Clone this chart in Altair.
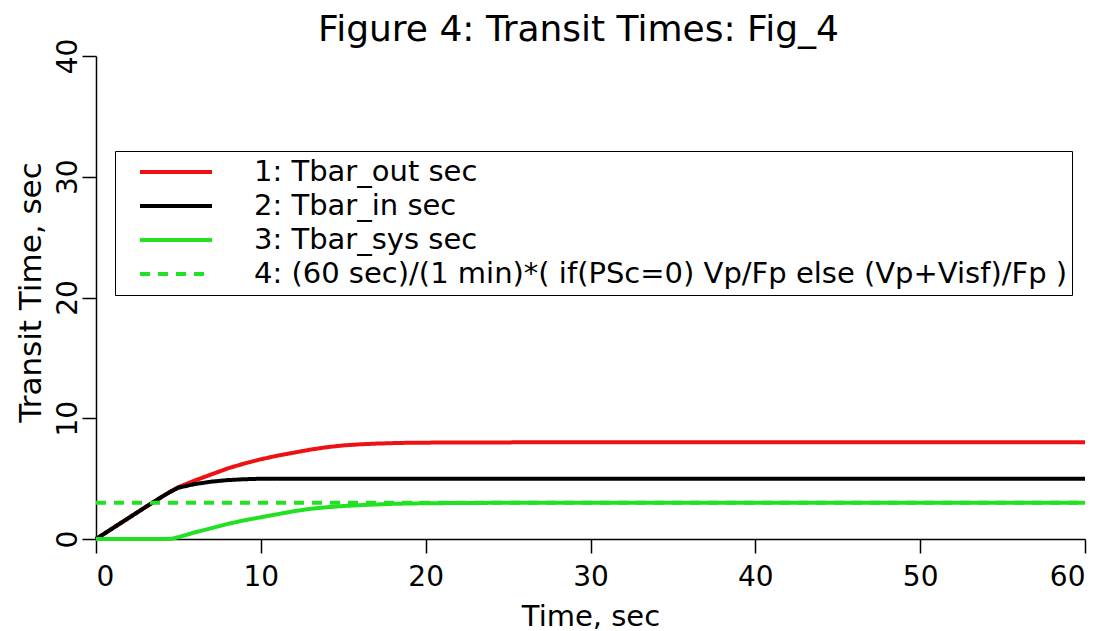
import altair as alt
import pandas as pd

# Time axis samples (sec)
time_s = [0, 1, 2, 3, 4, 4.5, 5, 6, 7, 8, 9, 10, 11, 12, 13, 14, 15, 16, 17, 18, 19, 20, 22, 25, 27, 30, 40, 50, 60]

tbar_out = [0, 0.88, 1.76, 2.64, 3.5, 3.92, 4.3, 4.85, 5.35, 5.85, 6.25, 6.6, 6.9, 7.15, 7.4, 7.6, 7.75, 7.84, 7.9, 7.94,
            7.97, 7.98, 7.99, 8.0, 8.02, 8.02, 8.02, 8.02, 8.02]
tbar_in = [0, 0.88, 1.76, 2.64, 3.5, 3.9, 4.25, 4.55, 4.75, 4.88, 4.95, 4.99, 5.0, 5.0, 5.0, 5.0, 5.0, 5.0, 5.0, 5.0,
           5.0, 5.0, 5.0, 5.0, 5.0, 5.0, 5.0, 5.0, 5.0]
tbar_sys = [0, 0, 0, 0, 0, 0, 0.15, 0.55, 0.9, 1.25, 1.55, 1.8, 2.05, 2.3, 2.5, 2.63, 2.73, 2.8, 2.86, 2.91,
            2.94, 2.96, 2.98, 3.0, 3.0, 3.0, 3.0, 3.0, 3.0]
formula = [3.0] * len(time_s)

labels = [
    "1: Tbar_out sec",
    "2: Tbar_in sec",
    "3: Tbar_sys sec",
    "4: (60 sec)/(1 min)*( if(PSc=0) Vp/Fp else (Vp+Visf)/Fp )",
]
colors = ["#ee1111", "#000000", "#22e022", "#22e022"]
dashes = [[1, 0], [1, 0], [1, 0], [10, 8]]

x_ticks = [0, 10, 20, 30, 40, 50, 60]
y_ticks = [0, 10, 20, 30, 40]

rows = []
for lab, vals in zip(labels, [tbar_out, tbar_in, tbar_sys, formula]):
    for t, v in zip(time_s, vals):
        rows.append({"t": t, "v": v, "series": lab})
df = pd.DataFrame(rows)

FONT = "DejaVu Sans"

legend = alt.Legend(
    orient="none", legendX=19, legendY=95, direction="vertical",
    symbolType="stroke", symbolSize=5184, symbolStrokeWidth=4,
    labelFont=FONT, labelFontSize=29, labelLimit=2000, labelColor="black",
    labelOffset=40, symbolOffset=19, padding=4, clipHeight=34, rowPadding=0,
    strokeColor="black", fillColor="white",
)

chart = alt.Chart(df).mark_line(strokeWidth=4, strokeCap="butt").encode(
    x=alt.X("t:Q", title="Time, sec",
            scale=alt.Scale(domain=[0, 60], nice=False),
            axis=alt.Axis(values=x_ticks, format="d", labelFont=FONT, labelFontSize=28,
                          labelPadding=10, tickSize=14, titleFont=FONT, titleFontSize=29,
                          titleFontWeight="normal", titleBaseline="alphabetic", titleY=86)),
    y=alt.Y("v:Q", title="Transit Time, sec",
            scale=alt.Scale(domain=[0, 40], nice=False),
            axis=alt.Axis(values=y_ticks, format="d", labelFont=FONT, labelFontSize=28,
                          labelAngle=-90, labelAlign="center", labelBaseline="bottom",
                          labelPadding=0, tickSize=14, titleFont=FONT, titleFontSize=31,
                          titleFontWeight="normal", titleBaseline="alphabetic",
                          titleX=-56, titleY=236, titleAngle=-90)),
    color=alt.Color("series:N", title=None, scale=alt.Scale(domain=labels, range=colors), legend=legend),
    strokeDash=alt.StrokeDash("series:N", title=None, scale=alt.Scale(domain=labels, range=dashes), legend=legend),
).properties(
    width=989, height=483,
    title=alt.TitleParams("Figure 4: Transit Times: Fig_4", font=FONT, fontSize=36, fontWeight="normal",
                          color="black", anchor="middle", dx=-12, dy=39, offset=0, baseline="alphabetic"),
    padding={"left": 88, "top": 48, "right": 15, "bottom": 92},
    autosize=alt.AutoSizeParams(type="none"),
).configure_view(strokeWidth=0).configure_axis(
    grid=False, domainColor="black", domainWidth=1.5, tickColor="black", tickWidth=1.5,
    labelColor="black", titleColor="black",
)

chart.save("out.html", embed_options={"renderer": "svg", "actions": False})
